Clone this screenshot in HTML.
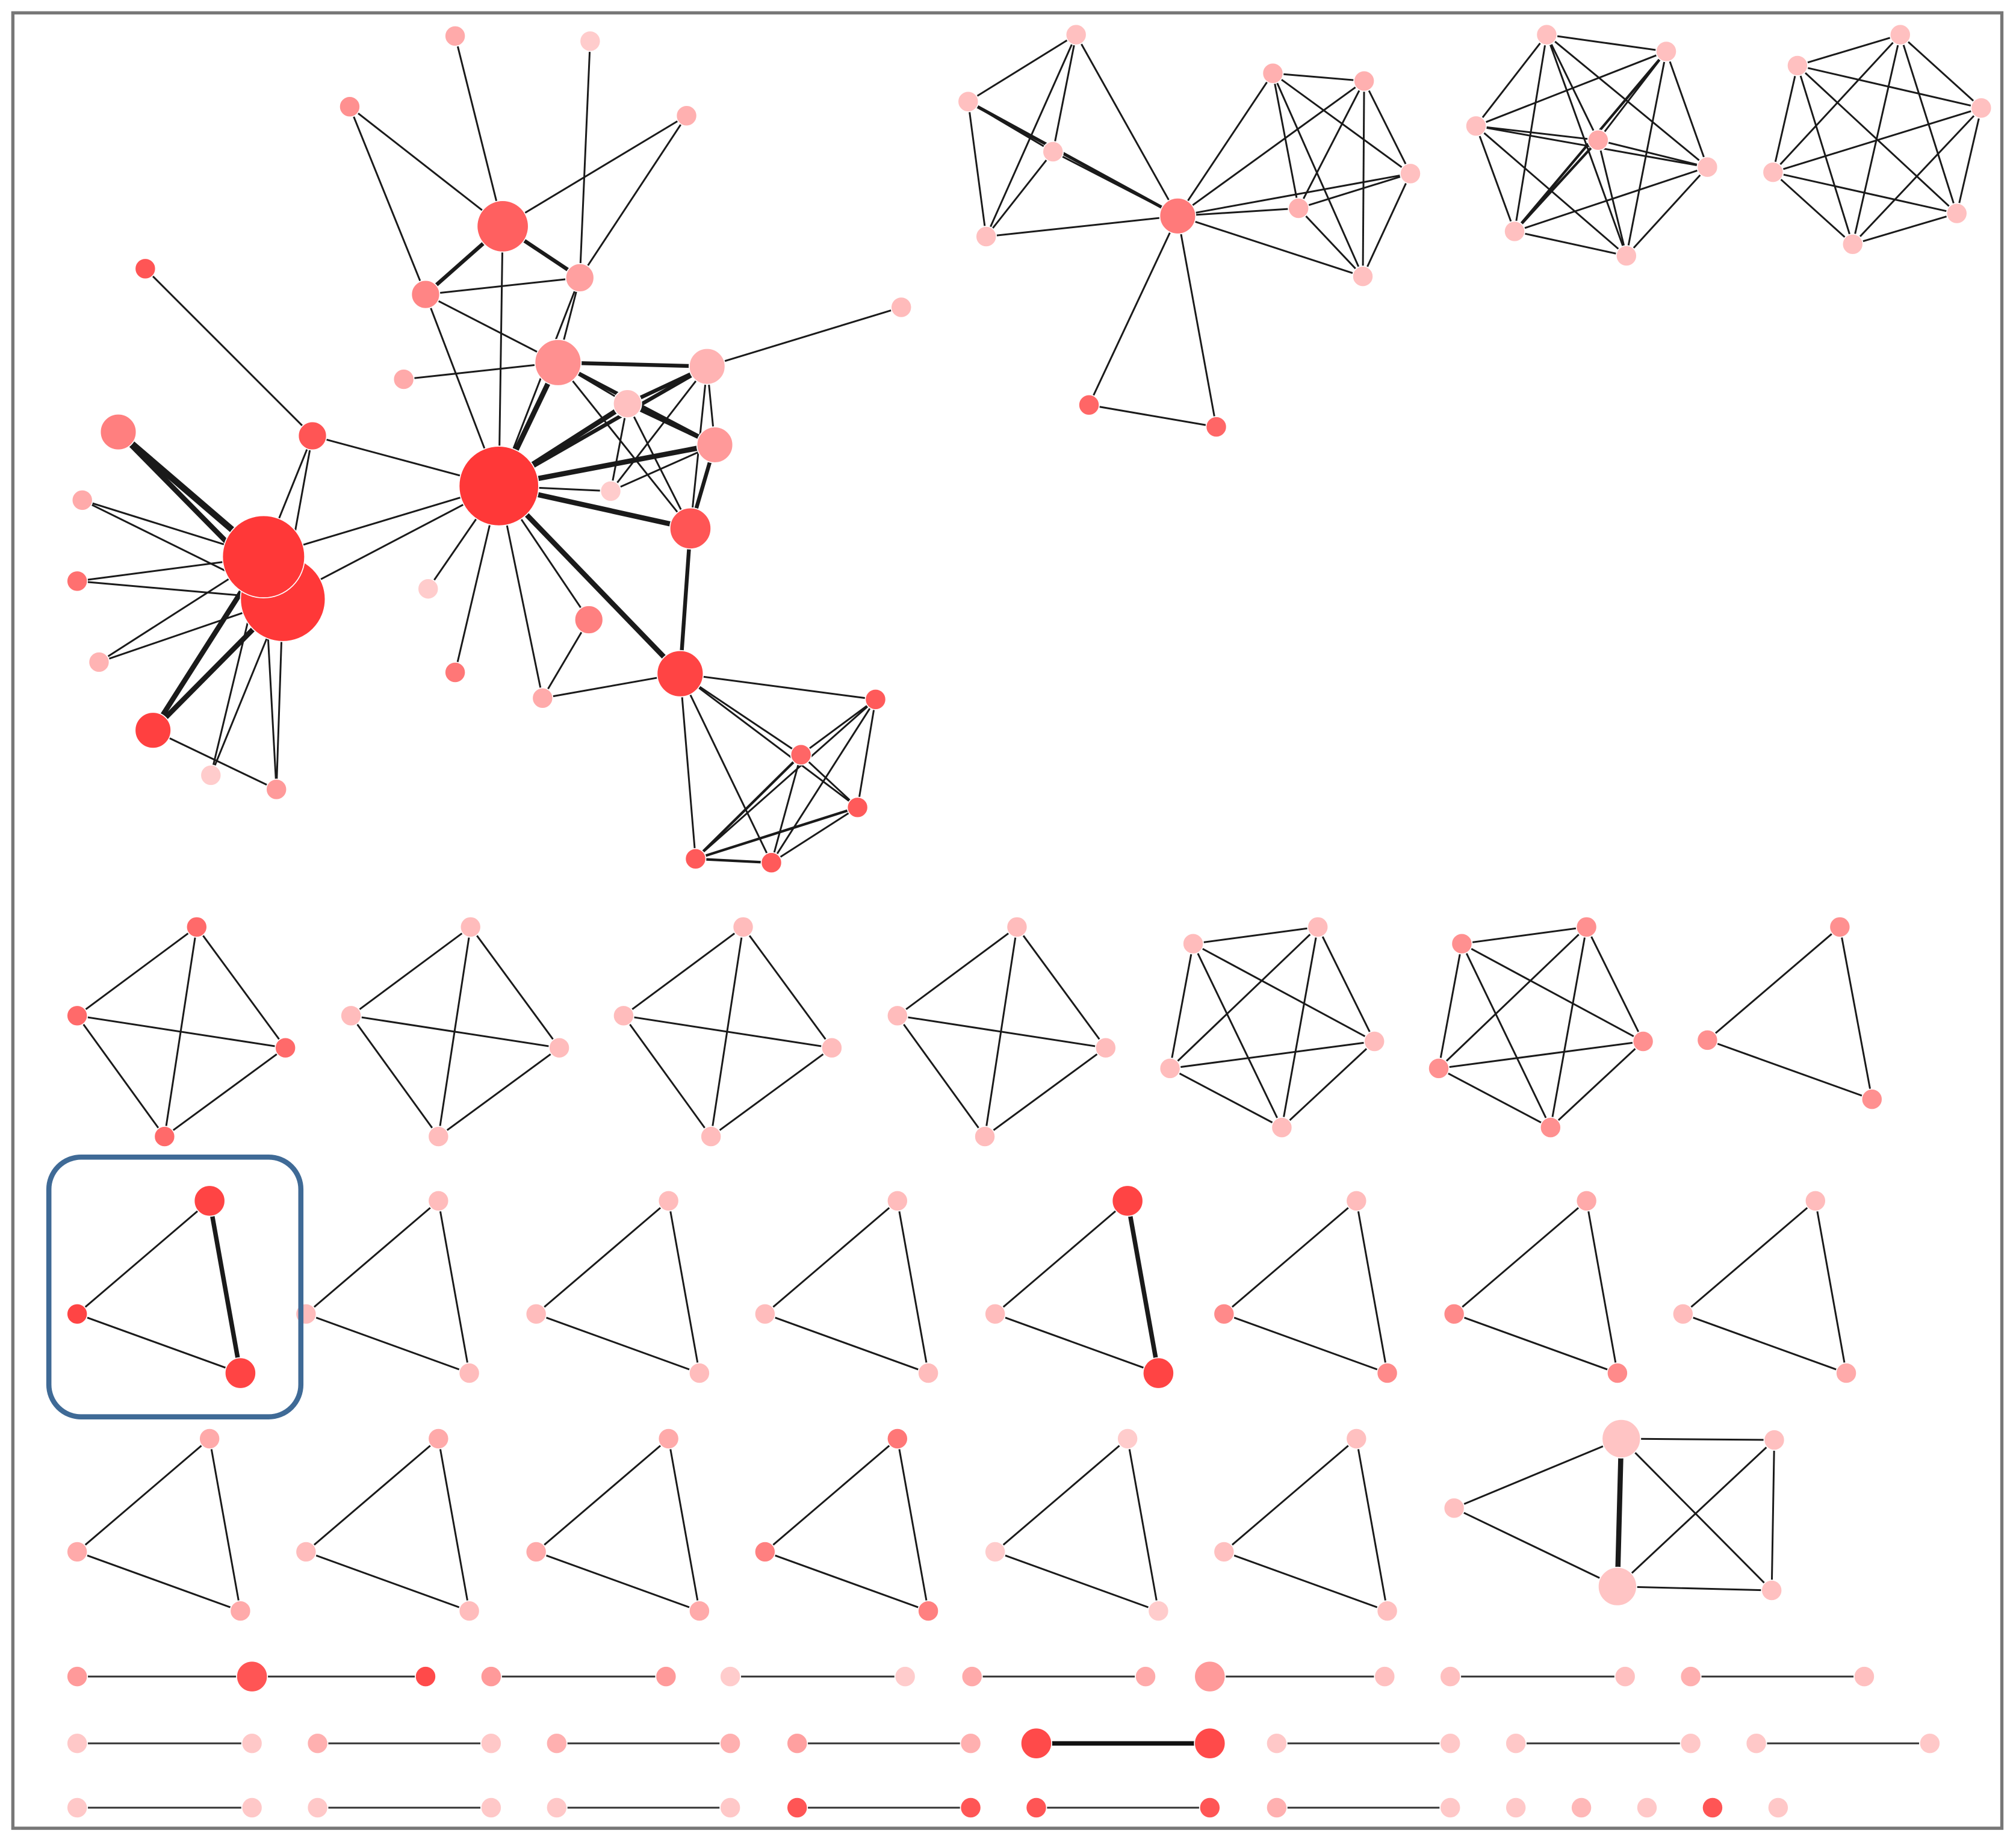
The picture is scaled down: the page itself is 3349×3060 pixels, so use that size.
<!DOCTYPE html>
<html><head><meta charset="utf-8"><style>html,body{margin:0;padding:0;background:#fff}svg{display:block}</style></head>
<body>
<svg width="3349" height="3060" viewBox="0 0 1568 1432.7" xmlns="http://www.w3.org/2000/svg">
<defs>
<g id="tri"><line x1="0" y1="0" x2="103" y2="-88"/><line x1="103" y1="-88" x2="127" y2="46"/><line x1="0" y1="0" x2="127" y2="46"/></g>
<g id="k4"><line x1="0" y1="0" x2="93" y2="-69"/><line x1="0" y1="0" x2="162" y2="25"/><line x1="0" y1="0" x2="68" y2="94"/><line x1="93" y1="-69" x2="162" y2="25"/><line x1="93" y1="-69" x2="68" y2="94"/><line x1="162" y1="25" x2="68" y2="94"/></g>
<g id="k5"><line x1="18" y1="-97" x2="115" y2="-110"/><line x1="18" y1="-97" x2="159" y2="-21"/><line x1="18" y1="-97" x2="87" y2="46"/><line x1="18" y1="-97" x2="0" y2="0"/><line x1="115" y1="-110" x2="159" y2="-21"/><line x1="115" y1="-110" x2="87" y2="46"/><line x1="115" y1="-110" x2="0" y2="0"/><line x1="159" y1="-21" x2="87" y2="46"/><line x1="159" y1="-21" x2="0" y2="0"/><line x1="87" y1="46" x2="0" y2="0"/></g>
</defs>
<rect x="10" y="10" width="1547" height="1412" fill="#fff" stroke="#777" stroke-width="2.5"/>
<g stroke="#1a1a1a" stroke-width="1.4" fill="none">
<!-- main component edges -->
<line x1="388" y1="378" x2="391" y2="176"/><line x1="388" y1="378" x2="331" y2="229"/><line x1="388" y1="378" x2="451" y2="216"/>
<line x1="388" y1="378" x2="434" y2="282" stroke-width="4"/><line x1="388" y1="378" x2="488" y2="314" stroke-width="4"/>
<line x1="388" y1="378" x2="550" y2="285" stroke-width="3"/><line x1="388" y1="378" x2="556" y2="346" stroke-width="4"/>
<line x1="388" y1="378" x2="537" y2="411" stroke-width="4"/><line x1="388" y1="378" x2="475" y2="382"/>
<line x1="388" y1="378" x2="529" y2="524" stroke-width="4"/><line x1="388" y1="378" x2="458" y2="482"/>
<line x1="388" y1="378" x2="422" y2="543"/><line x1="388" y1="378" x2="354" y2="523"/><line x1="388" y1="378" x2="333" y2="458"/>
<line x1="388" y1="378" x2="243" y2="339"/><line x1="388" y1="378" x2="205" y2="433"/><line x1="388" y1="378" x2="220" y2="466"/>
<line x1="391" y1="176" x2="272" y2="83"/><line x1="391" y1="176" x2="354" y2="28"/><line x1="391" y1="176" x2="534" y2="90"/>
<line x1="391" y1="176" x2="331" y2="229" stroke-width="3"/><line x1="391" y1="176" x2="451" y2="216" stroke-width="3"/>
<line x1="331" y1="229" x2="272" y2="83"/><line x1="451" y1="216" x2="459" y2="32"/><line x1="451" y1="216" x2="534" y2="90"/>
<line x1="331" y1="229" x2="451" y2="216"/><line x1="331" y1="229" x2="434" y2="282"/><line x1="451" y1="216" x2="434" y2="282"/>
<line x1="314" y1="295" x2="434" y2="282"/><line x1="434" y1="282" x2="550" y2="285" stroke-width="3"/>
<line x1="434" y1="282" x2="556" y2="346" stroke-width="3"/><line x1="434" y1="282" x2="488" y2="314"/><line x1="434" y1="282" x2="537" y2="411"/>
<line x1="550" y1="285" x2="701" y2="239"/><line x1="550" y1="285" x2="488" y2="314" stroke-width="3"/><line x1="550" y1="285" x2="556" y2="346"/>
<line x1="550" y1="285" x2="537" y2="411"/><line x1="550" y1="285" x2="475" y2="382"/>
<line x1="488" y1="314" x2="556" y2="346" stroke-width="3"/><line x1="488" y1="314" x2="537" y2="411"/><line x1="488" y1="314" x2="475" y2="382"/>
<line x1="556" y1="346" x2="537" y2="411" stroke-width="3"/><line x1="556" y1="346" x2="475" y2="382"/>
<line x1="537" y1="411" x2="529" y2="524" stroke-width="3"/><line x1="458" y1="482" x2="422" y2="543"/><line x1="422" y1="543" x2="529" y2="524"/>
<line x1="243" y1="339" x2="113" y2="209"/><line x1="243" y1="339" x2="205" y2="433"/><line x1="243" y1="339" x2="220" y2="466"/>
<line x1="92" y1="336" x2="205" y2="433" stroke-width="5"/><line x1="92" y1="336" x2="220" y2="466" stroke-width="4"/>
<line x1="64" y1="389" x2="205" y2="433"/><line x1="64" y1="389" x2="220" y2="466"/><line x1="60" y1="452" x2="205" y2="433"/><line x1="60" y1="452" x2="220" y2="466"/>
<line x1="77" y1="515" x2="205" y2="433"/><line x1="77" y1="515" x2="220" y2="466"/>
<line x1="119" y1="568" x2="205" y2="433" stroke-width="4"/><line x1="119" y1="568" x2="220" y2="466" stroke-width="4"/>
<line x1="119" y1="568" x2="215" y2="614"/><line x1="164" y1="603" x2="205" y2="433"/><line x1="164" y1="603" x2="220" y2="466"/>
<line x1="215" y1="614" x2="205" y2="433"/><line x1="215" y1="614" x2="220" y2="466"/>
<line x1="529" y1="524" x2="681" y2="544"/><line x1="529" y1="524" x2="623" y2="587"/><line x1="529" y1="524" x2="667" y2="628"/>
<line x1="529" y1="524" x2="541" y2="668"/><line x1="529" y1="524" x2="600" y2="671"/>
<line x1="681" y1="544" x2="623" y2="587"/><line x1="681" y1="544" x2="667" y2="628"/><line x1="681" y1="544" x2="541" y2="668"/><line x1="681" y1="544" x2="600" y2="671"/>
<line x1="623" y1="587" x2="667" y2="628"/><line x1="623" y1="587" x2="541" y2="668" stroke-width="2"/><line x1="623" y1="587" x2="600" y2="671"/>
<line x1="667" y1="628" x2="541" y2="668" stroke-width="2"/><line x1="667" y1="628" x2="600" y2="671"/><line x1="541" y1="668" x2="600" y2="671" stroke-width="2"/>
<!-- top-right comp 1 -->
<line x1="837" y1="27" x2="753" y2="79"/><line x1="837" y1="27" x2="819" y2="118"/><line x1="837" y1="27" x2="767" y2="184"/><line x1="837" y1="27" x2="916" y2="168"/>
<line x1="753" y1="79" x2="819" y2="118"/><line x1="753" y1="79" x2="767" y2="184"/><line x1="753" y1="79" x2="916" y2="168" stroke-width="2.5"/>
<line x1="819" y1="118" x2="767" y2="184"/><line x1="819" y1="118" x2="916" y2="168"/><line x1="767" y1="184" x2="916" y2="168"/>
<line x1="916" y1="168" x2="990" y2="57"/><line x1="916" y1="168" x2="1061" y2="63"/><line x1="916" y1="168" x2="1097" y2="135"/><line x1="916" y1="168" x2="1010" y2="162"/><line x1="916" y1="168" x2="1060" y2="215"/>
<line x1="916" y1="168" x2="847" y2="315"/><line x1="916" y1="168" x2="946" y2="332"/><line x1="847" y1="315" x2="946" y2="332"/>
<line x1="990" y1="57" x2="1061" y2="63"/><line x1="990" y1="57" x2="1097" y2="135"/><line x1="990" y1="57" x2="1010" y2="162"/><line x1="990" y1="57" x2="1060" y2="215"/>
<line x1="1061" y1="63" x2="1097" y2="135"/><line x1="1061" y1="63" x2="1010" y2="162"/><line x1="1061" y1="63" x2="1060" y2="215"/>
<line x1="1097" y1="135" x2="1010" y2="162"/><line x1="1097" y1="135" x2="1060" y2="215"/><line x1="1010" y1="162" x2="1060" y2="215"/>
<!-- comp 2 (K7) -->
<g>
<line x1="1203" y1="27" x2="1296" y2="40"/><line x1="1203" y1="27" x2="1148" y2="98"/><line x1="1203" y1="27" x2="1243" y2="109"/><line x1="1203" y1="27" x2="1328" y2="130"/><line x1="1203" y1="27" x2="1178" y2="180"/><line x1="1203" y1="27" x2="1265" y2="199"/>
<line x1="1296" y1="40" x2="1148" y2="98"/><line x1="1296" y1="40" x2="1243" y2="109"/><line x1="1296" y1="40" x2="1328" y2="130"/><line x1="1296" y1="40" x2="1178" y2="180" stroke-width="2"/><line x1="1296" y1="40" x2="1265" y2="199"/>
<line x1="1148" y1="98" x2="1243" y2="109"/><line x1="1148" y1="98" x2="1328" y2="130"/><line x1="1148" y1="98" x2="1178" y2="180"/><line x1="1148" y1="98" x2="1265" y2="199"/>
<line x1="1243" y1="109" x2="1328" y2="130"/><line x1="1243" y1="109" x2="1178" y2="180" stroke-width="2"/><line x1="1243" y1="109" x2="1265" y2="199"/>
<line x1="1328" y1="130" x2="1178" y2="180"/><line x1="1328" y1="130" x2="1265" y2="199"/><line x1="1178" y1="180" x2="1265" y2="199"/>
</g>
<!-- comp 3 (K6) -->
<line x1="1478" y1="27" x2="1398" y2="51"/><line x1="1478" y1="27" x2="1541" y2="84"/><line x1="1478" y1="27" x2="1379" y2="134"/><line x1="1478" y1="27" x2="1522" y2="166"/><line x1="1478" y1="27" x2="1441" y2="190"/>
<line x1="1398" y1="51" x2="1541" y2="84"/><line x1="1398" y1="51" x2="1379" y2="134"/><line x1="1398" y1="51" x2="1522" y2="166"/><line x1="1398" y1="51" x2="1441" y2="190"/>
<line x1="1541" y1="84" x2="1379" y2="134"/><line x1="1541" y1="84" x2="1522" y2="166"/><line x1="1541" y1="84" x2="1441" y2="190"/>
<line x1="1379" y1="134" x2="1522" y2="166"/><line x1="1379" y1="134" x2="1441" y2="190"/><line x1="1522" y1="166" x2="1441" y2="190"/>
<!-- row K4 / K5 -->
<use href="#k4" x="60" y="790"/><use href="#k4" x="273" y="790"/><use href="#k4" x="485" y="790"/><use href="#k4" x="698" y="790"/>
<use href="#k5" x="910" y="831"/><use href="#k5" x="1119" y="831"/>
<line x1="1431" y1="721" x2="1328" y2="809"/><line x1="1431" y1="721" x2="1456" y2="855"/><line x1="1328" y1="809" x2="1456" y2="855"/>
<!-- triangles row 2 -->
<line x1="60" y1="1022" x2="163" y2="934"/><line x1="60" y1="1022" x2="187" y2="1068"/><line x1="163" y1="934" x2="187" y2="1068" stroke-width="3.5"/>
<use href="#tri" x="238" y="1022"/><use href="#tri" x="417" y="1022"/><use href="#tri" x="595" y="1022"/>
<line x1="774" y1="1022" x2="877" y2="934"/><line x1="774" y1="1022" x2="901" y2="1068"/><line x1="877" y1="934" x2="901" y2="1068" stroke-width="3.5"/>
<use href="#tri" x="952" y="1022"/><use href="#tri" x="1131" y="1022"/><use href="#tri" x="1309" y="1022"/>
<!-- triangles row 3 -->
<use href="#tri" x="60" y="1207"/><use href="#tri" x="238" y="1207"/><use href="#tri" x="417" y="1207"/><use href="#tri" x="595" y="1207"/><use href="#tri" x="774" y="1207"/><use href="#tri" x="952" y="1207"/>
<line x1="1261" y1="1119" x2="1131" y2="1173"/><line x1="1258" y1="1234" x2="1131" y2="1173"/><line x1="1261" y1="1119" x2="1258" y2="1234" stroke-width="4"/>
<line x1="1261" y1="1119" x2="1380" y2="1120"/><line x1="1261" y1="1119" x2="1378" y2="1237"/><line x1="1258" y1="1234" x2="1380" y2="1120"/><line x1="1258" y1="1234" x2="1378" y2="1237"/><line x1="1380" y1="1120" x2="1378" y2="1237"/>
<!-- pairs -->
<g stroke="#333">
<line x1="60" y1="1304" x2="331" y2="1304"/><line x1="382" y1="1304" x2="518" y2="1304"/><line x1="568" y1="1304" x2="704" y2="1304"/><line x1="756" y1="1304" x2="891" y2="1304"/><line x1="941" y1="1304" x2="1077" y2="1304"/><line x1="1128" y1="1304" x2="1264" y2="1304"/><line x1="1315" y1="1304" x2="1450" y2="1304"/>
<line x1="60" y1="1356" x2="196" y2="1356"/><line x1="247" y1="1356" x2="382" y2="1356"/><line x1="433" y1="1356" x2="568" y2="1356"/><line x1="620" y1="1356" x2="755" y2="1356"/><line x1="806" y1="1356" x2="941" y2="1356" stroke="#111" stroke-width="3.5"/><line x1="993" y1="1356" x2="1128" y2="1356"/><line x1="1179" y1="1356" x2="1315" y2="1356"/><line x1="1366" y1="1356" x2="1501" y2="1356"/>
<line x1="60" y1="1406" x2="196" y2="1406"/><line x1="247" y1="1406" x2="382" y2="1406"/><line x1="433" y1="1406" x2="568" y2="1406"/><line x1="620" y1="1406" x2="755" y2="1406"/><line x1="806" y1="1406" x2="941" y2="1406"/><line x1="993" y1="1406" x2="1128" y2="1406"/>
</g>
</g>
<g stroke="#fff" stroke-width="0.8">
<!-- main nodes -->
<circle cx="220" cy="466" r="33" fill="#ff3838"/><circle cx="205" cy="433" r="32" fill="#ff3838"/><circle cx="388" cy="378" r="31" fill="#ff3838"/>
<circle cx="92" cy="336" r="14" fill="#ff7f7f"/><circle cx="243" cy="339" r="11" fill="#ff5555"/><circle cx="113" cy="209" r="8" fill="#ff5555"/>
<circle cx="64" cy="389" r="8" fill="#ffaaaa"/><circle cx="60" cy="452" r="8" fill="#ff7070"/><circle cx="77" cy="515" r="8" fill="#ffb3b3"/>
<circle cx="119" cy="568" r="14" fill="#ff4040"/><circle cx="164" cy="603" r="8" fill="#ffcccc"/><circle cx="215" cy="614" r="8" fill="#ff9a9a"/>
<circle cx="391" cy="176" r="20" fill="#ff6060"/><circle cx="331" cy="229" r="11" fill="#ff8585"/><circle cx="451" cy="216" r="11" fill="#ffa0a0"/>
<circle cx="272" cy="83" r="8" fill="#ff9090"/><circle cx="354" cy="28" r="8" fill="#ffaaaa"/><circle cx="459" cy="32" r="8" fill="#ffcccc"/><circle cx="534" cy="90" r="8" fill="#ffb0b0"/>
<circle cx="434" cy="282" r="18" fill="#ff9090"/><circle cx="314" cy="295" r="8" fill="#ffaaaa"/><circle cx="550" cy="285" r="14" fill="#ffb3b3"/><circle cx="701" cy="239" r="8" fill="#ffbbbb"/>
<circle cx="488" cy="314" r="11" fill="#ffc0c0"/><circle cx="556" cy="346" r="14" fill="#ff9999"/><circle cx="475" cy="382" r="8" fill="#ffcccc"/><circle cx="537" cy="411" r="16" fill="#ff5555"/>
<circle cx="333" cy="458" r="8" fill="#ffcccc"/><circle cx="354" cy="523" r="8" fill="#ff7777"/><circle cx="458" cy="482" r="11" fill="#ff8080"/><circle cx="422" cy="543" r="8" fill="#ffaaaa"/>
<circle cx="529" cy="524" r="18" fill="#ff4444"/><circle cx="681" cy="544" r="8" fill="#ff5a5a"/><circle cx="623" cy="587" r="8" fill="#ff6666"/><circle cx="667" cy="628" r="8" fill="#ff5a5a"/><circle cx="541" cy="668" r="8" fill="#ff5a5a"/><circle cx="600" cy="671" r="8" fill="#ff5a5a"/>
<!-- TR comps -->
<g fill="#ffc0c0"><circle cx="837" cy="27" r="8"/><circle cx="753" cy="79" r="8"/><circle cx="819" cy="118" r="8"/><circle cx="767" cy="184" r="8"/><circle cx="990" cy="57" r="8" fill="#ffb0b0"/><circle cx="1061" cy="63" r="8" fill="#ffb0b0"/><circle cx="1097" cy="135" r="8"/><circle cx="1010" cy="162" r="8" fill="#ffb0b0"/><circle cx="1060" cy="215" r="8"/>
<circle cx="1203" cy="27" r="8"/><circle cx="1296" cy="40" r="8"/><circle cx="1148" cy="98" r="8"/><circle cx="1243" cy="109" r="8" fill="#ffaaaa"/><circle cx="1328" cy="130" r="8"/><circle cx="1178" cy="180" r="8"/><circle cx="1265" cy="199" r="8"/>
<circle cx="1478" cy="27" r="8"/><circle cx="1398" cy="51" r="8"/><circle cx="1541" cy="84" r="8"/><circle cx="1379" cy="134" r="8"/><circle cx="1522" cy="166" r="8"/><circle cx="1441" cy="190" r="8"/></g>
<circle cx="916" cy="168" r="14" fill="#ff7a7a"/><circle cx="847" cy="315" r="8" fill="#ff6666"/><circle cx="946" cy="332" r="8" fill="#ff6666"/>
<!-- K4 row -->
<g fill="#ff6a6a"><circle cx="153" cy="721" r="8"/><circle cx="60" cy="790" r="8"/><circle cx="222" cy="815" r="8"/><circle cx="128" cy="884" r="8"/></g>
<g fill="#ffbcbc">
<circle cx="366" cy="721" r="8"/><circle cx="273" cy="790" r="8"/><circle cx="435" cy="815" r="8"/><circle cx="341" cy="884" r="8"/>
<circle cx="578" cy="721" r="8"/><circle cx="485" cy="790" r="8"/><circle cx="647" cy="815" r="8"/><circle cx="553" cy="884" r="8"/>
<circle cx="791" cy="721" r="8"/><circle cx="698" cy="790" r="8"/><circle cx="860" cy="815" r="8"/><circle cx="766" cy="884" r="8"/>
<circle cx="928" cy="734" r="8"/><circle cx="1025" cy="721" r="8"/><circle cx="1069" cy="810" r="8"/><circle cx="997" cy="877" r="8"/><circle cx="910" cy="831" r="8"/>
</g>
<g fill="#ff9090"><circle cx="1137" cy="734" r="8"/><circle cx="1234" cy="721" r="8"/><circle cx="1278" cy="810" r="8"/><circle cx="1206" cy="877" r="8"/><circle cx="1119" cy="831" r="8"/>
<circle cx="1431" cy="721" r="8"/><circle cx="1328" cy="809" r="8"/><circle cx="1456" cy="855" r="8"/></g>
<!-- triangles row 2 -->
<circle cx="163" cy="934" r="12" fill="#ff4444"/><circle cx="60" cy="1022" r="8" fill="#ff4444"/><circle cx="187" cy="1068" r="12" fill="#ff4444"/>
<g fill="#ffbcbc">
<circle cx="341" cy="934" r="8"/><circle cx="238" cy="1022" r="8"/><circle cx="365" cy="1068" r="8"/>
<circle cx="520" cy="934" r="8"/><circle cx="417" cy="1022" r="8"/><circle cx="544" cy="1068" r="8"/>
<circle cx="698" cy="934" r="8"/><circle cx="595" cy="1022" r="8"/><circle cx="722" cy="1068" r="8"/>
<circle cx="774" cy="1022" r="8"/>
<circle cx="1055" cy="934" r="8"/><circle cx="1234" cy="934" r="8" fill="#ffaaaa"/><circle cx="1412" cy="934" r="8"/><circle cx="1309" cy="1022" r="8"/><circle cx="1436" cy="1068" r="8" fill="#ffaaaa"/>
</g>
<circle cx="877" cy="934" r="12" fill="#ff4444"/><circle cx="901" cy="1068" r="12" fill="#ff4444"/>
<g fill="#ff8a8a"><circle cx="952" cy="1022" r="8"/><circle cx="1079" cy="1068" r="8"/><circle cx="1131" cy="1022" r="8"/><circle cx="1258" cy="1068" r="8"/></g>
<!-- triangles row 3 -->
<g fill="#ffaaaa">
<circle cx="163" cy="1119" r="8"/><circle cx="60" cy="1207" r="8"/><circle cx="187" cy="1253" r="8"/>
<circle cx="341" cy="1119" r="8"/><circle cx="238" cy="1207" r="8" fill="#ffbcbc"/><circle cx="365" cy="1253" r="8" fill="#ffbcbc"/>
<circle cx="520" cy="1119" r="8"/><circle cx="417" cy="1207" r="8"/><circle cx="544" cy="1253" r="8"/>
<circle cx="698" cy="1119" r="8" fill="#ff7777"/><circle cx="595" cy="1207" r="8" fill="#ff8080"/><circle cx="722" cy="1253" r="8" fill="#ff8080"/>
<circle cx="877" cy="1119" r="8" fill="#ffcccc"/><circle cx="774" cy="1207" r="8" fill="#ffcccc"/><circle cx="901" cy="1253" r="8" fill="#ffcccc"/>
<circle cx="1055" cy="1119" r="8" fill="#ffc0c0"/><circle cx="952" cy="1207" r="8" fill="#ffc0c0"/><circle cx="1079" cy="1253" r="8" fill="#ffc0c0"/>
<circle cx="1131" cy="1173" r="8" fill="#ffc0c0"/><circle cx="1380" cy="1120" r="8" fill="#ffc0c0"/><circle cx="1378" cy="1237" r="8" fill="#ffc0c0"/>
</g>
<circle cx="1261" cy="1119" r="15" fill="#ffc4c4"/><circle cx="1258" cy="1234" r="15" fill="#ffc4c4"/>
<!-- pair rows -->
<circle cx="60" cy="1304" r="8" fill="#ff9a9a"/><circle cx="196" cy="1304" r="12" fill="#ff5555"/><circle cx="331" cy="1304" r="8" fill="#ff4a4a"/>
<circle cx="382" cy="1304" r="8" fill="#ff9a9a"/><circle cx="518" cy="1304" r="8" fill="#ff9a9a"/>
<circle cx="568" cy="1304" r="8" fill="#ffcccc"/><circle cx="704" cy="1304" r="8" fill="#ffcccc"/>
<circle cx="756" cy="1304" r="8" fill="#ffaaaa"/><circle cx="891" cy="1304" r="8" fill="#ffaaaa"/>
<circle cx="941" cy="1304" r="12" fill="#ff9a9a"/><circle cx="1077" cy="1304" r="8" fill="#ffc0c0"/>
<circle cx="1128" cy="1304" r="8" fill="#ffc0c0"/><circle cx="1264" cy="1304" r="8" fill="#ffc0c0"/>
<circle cx="1315" cy="1304" r="8" fill="#ffb0b0"/><circle cx="1450" cy="1304" r="8" fill="#ffc0c0"/>
<g fill="#ffc8c8">
<circle cx="60" cy="1356" r="8"/><circle cx="196" cy="1356" r="8"/><circle cx="247" cy="1356" r="8" fill="#ffb0b0"/><circle cx="382" cy="1356" r="8"/>
<circle cx="433" cy="1356" r="8" fill="#ffb0b0"/><circle cx="568" cy="1356" r="8" fill="#ffb0b0"/><circle cx="620" cy="1356" r="8" fill="#ffa0a0"/><circle cx="755" cy="1356" r="8" fill="#ffb0b0"/>
<circle cx="993" cy="1356" r="8"/><circle cx="1128" cy="1356" r="8"/><circle cx="1179" cy="1356" r="8"/><circle cx="1315" cy="1356" r="8"/><circle cx="1366" cy="1356" r="8"/><circle cx="1501" cy="1356" r="8"/>
<circle cx="60" cy="1406" r="8"/><circle cx="196" cy="1406" r="8"/><circle cx="247" cy="1406" r="8"/><circle cx="382" cy="1406" r="8"/>
<circle cx="433" cy="1406" r="8"/><circle cx="568" cy="1406" r="8"/>
<circle cx="993" cy="1406" r="8" fill="#ffb0b0"/><circle cx="1128" cy="1406" r="8"/><circle cx="1179" cy="1406" r="8"/><circle cx="1230" cy="1406" r="8" fill="#ffb8b8"/><circle cx="1281" cy="1406" r="8"/><circle cx="1383" cy="1406" r="8"/>
</g>
<circle cx="806" cy="1356" r="12" fill="#ff4a4a"/><circle cx="941" cy="1356" r="12" fill="#ff4a4a"/>
<circle cx="620" cy="1406" r="8" fill="#ff5555"/><circle cx="755" cy="1406" r="8" fill="#ff5555"/><circle cx="806" cy="1406" r="8" fill="#ff5555"/><circle cx="941" cy="1406" r="8" fill="#ff5555"/>
<circle cx="1332" cy="1406" r="8" fill="#ff5555"/>
</g>
<rect x="38" y="900" width="196" height="202" rx="25" fill="none" stroke="#3f6a96" stroke-width="4"/>
</svg>
</body></html>
